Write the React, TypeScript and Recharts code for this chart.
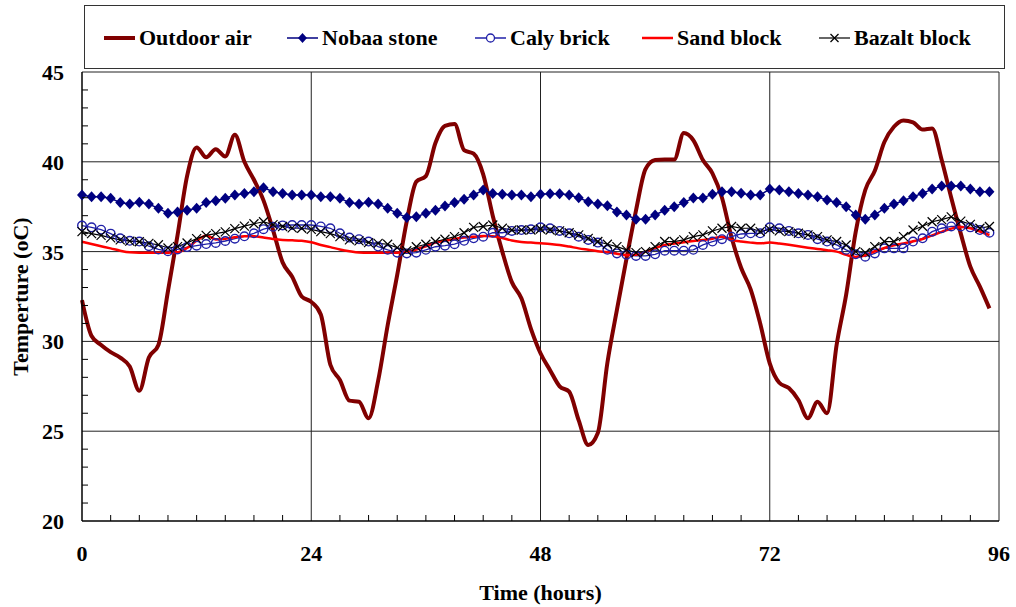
import React from 'react';
import { LineChart, Line, XAxis, YAxis, CartesianGrid } from 'recharts';

const hours = [
  0, 1, 2, 3, 4, 5, 6, 7, 8, 9, 10, 11, 12, 13, 14, 15, 16, 17, 18, 19, 20, 21, 22, 23,
  24, 25, 26, 27, 28, 29, 30, 31, 32, 33, 34, 35, 36, 37, 38, 39, 40, 41, 42, 43, 44, 45, 46, 47,
  48, 49, 50, 51, 52, 53, 54, 55, 56, 57, 58, 59, 60, 61, 62, 63, 64, 65, 66, 67, 68, 69, 70, 71,
  72, 73, 74, 75, 76, 77, 78, 79, 80, 81, 82, 83, 84, 85, 86, 87, 88, 89, 90, 91, 92, 93, 94, 95,
];

const outdoorAir = [
  32.3, 30.3, 29.8, 29.4, 29.1, 28.6, 27.25, 29.1, 29.8, 32.8, 35.9, 39.2,
  40.8, 40.25, 40.7, 40.3, 41.5, 40.0, 39.0, 37.85, 36.2, 34.4, 33.6, 32.5,
  32.2, 31.5, 28.7, 27.85, 26.7, 26.64, 25.72, 27.8, 30.9, 33.7, 36.7, 38.9,
  39.2, 41.05, 42.0, 42.1, 40.65, 40.45, 39.3, 37.0, 35.0, 33.3, 32.4, 30.7,
  29.34, 28.4, 27.5, 27.2, 25.6, 24.23, 24.9, 28.8, 31.75, 34.6, 37.3, 39.6,
  40.1, 40.13, 40.13, 41.6, 41.2, 40.1, 39.36, 38.0, 35.8, 34.1, 32.9, 31.0,
  28.78, 27.7, 27.4, 26.74, 25.72, 26.64, 26.0, 29.8, 32.6, 36.1, 38.43, 39.5,
  41.1, 41.95, 42.3, 42.2, 41.8, 41.86, 40.1, 38.0, 36.0, 34.16, 33.05, 31.84,
];

const nobaaStone = [
  38.15, 38.06, 38.06, 37.97, 37.73, 37.65, 37.75, 37.65, 37.41, 37.13, 37.2, 37.3,
  37.41, 37.73, 37.83, 37.97, 38.15, 38.24, 38.33, 38.56, 38.33, 38.24, 38.15, 38.15,
  38.15, 38.06, 38.06, 37.97, 37.73, 37.65, 37.75, 37.65, 37.41, 37.13, 36.9, 36.94,
  37.13, 37.3, 37.54, 37.73, 37.91, 38.15, 38.43, 38.24, 38.2, 38.15, 38.15, 38.06,
  38.2, 38.22, 38.22, 38.15, 38.0, 37.78, 37.65, 37.55, 37.2, 37.04, 36.8, 36.8,
  37.04, 37.3, 37.5, 37.73, 37.98, 37.98, 38.2, 38.33, 38.33, 38.25, 38.15, 38.15,
  38.48, 38.43, 38.33, 38.24, 38.15, 38.05, 37.87, 37.73, 37.5, 37.04, 36.8, 37.04,
  37.41, 37.65, 37.83, 38.05, 38.24, 38.48, 38.65, 38.65, 38.65, 38.48, 38.33, 38.33,
];

const calyBrick = [
  36.45, 36.35, 36.22, 36.0, 35.74, 35.6, 35.56, 35.3, 35.12, 35.02, 35.12, 35.25,
  35.33, 35.42, 35.48, 35.59, 35.72, 35.85, 36.02, 36.25, 36.38, 36.46, 36.48, 36.48,
  36.48, 36.4, 36.3, 36.02, 35.78, 35.69, 35.56, 35.28, 35.1, 34.94, 34.9, 34.94,
  35.1, 35.27, 35.33, 35.41, 35.6, 35.74, 35.83, 36.05, 36.05, 36.15, 36.2, 36.24,
  36.35, 36.3, 36.15, 36.02, 35.83, 35.65, 35.5, 35.1, 34.9, 34.82, 34.76, 34.76,
  34.85, 35.05, 35.05, 35.05, 35.1, 35.37, 35.56, 35.69, 35.83, 35.98, 36.02, 36.02,
  36.35, 36.3, 36.15, 36.02, 35.93, 35.69, 35.56, 35.37, 35.1, 34.85, 34.72, 34.9,
  35.18, 35.18, 35.18, 35.56, 35.74, 36.11, 36.3, 36.4, 36.4, 36.35, 36.2, 36.05,
];

const sandBlock = [
  35.55, 35.42, 35.3, 35.18, 35.05, 34.96, 34.94, 34.94, 34.94, 34.94, 34.96, 35.2,
  35.6, 35.9, 35.68, 35.72, 35.8, 35.86, 35.86, 35.78, 35.7, 35.65, 35.63, 35.6,
  35.52, 35.37, 35.25, 35.12, 35.02, 34.95, 34.94, 34.94, 34.94, 34.94, 35.0, 35.12,
  35.3, 35.5, 35.6, 35.7, 35.78, 35.83, 35.87, 35.85, 35.76, 35.62, 35.54, 35.5,
  35.46, 35.42, 35.37, 35.28, 35.18, 35.1, 35.02, 34.96, 34.88, 34.8, 34.82, 35.0,
  35.2, 35.37, 35.45, 35.52, 35.59, 35.65, 35.72, 35.83, 35.65, 35.56, 35.5, 35.46,
  35.5, 35.45, 35.38, 35.3, 35.22, 35.15, 35.08, 35.0, 34.82, 34.7, 34.8, 35.02,
  35.2, 35.35, 35.45, 35.58, 35.7, 35.9, 36.1, 36.28, 36.37, 36.3, 36.12, 35.92,
];

const bazaltBlock = [
  36.11, 36.0, 35.9, 35.76, 35.65, 35.58, 35.55, 35.46, 35.38, 35.2, 35.28, 35.48,
  35.72, 35.9, 36.0, 36.1, 36.28, 36.42, 36.55, 36.66, 36.5, 36.4, 36.32, 36.3,
  36.24, 36.11, 36.0, 35.83, 35.65, 35.6, 35.5, 35.46, 35.41, 35.22, 35.05, 35.27,
  35.41, 35.56, 35.69, 35.83, 36.05, 36.35, 36.4, 36.48, 36.3, 36.2, 36.2, 36.2,
  36.26, 36.2, 36.15, 36.05, 35.93, 35.74, 35.56, 35.41, 35.28, 35.1, 34.94, 35.0,
  35.28, 35.56, 35.56, 35.65, 35.83, 35.93, 36.15, 36.3, 36.4, 36.3, 36.3, 36.11,
  36.24, 36.15, 36.11, 36.02, 35.93, 35.83, 35.65, 35.56, 35.37, 35.0, 34.94, 35.28,
  35.56, 35.56, 35.83, 36.2, 36.41, 36.66, 36.78, 36.93, 36.7, 36.52, 36.3, 36.4,
];

const seriesNames = ['Outdoor air', 'Nobaa stone', 'Caly brick', 'Sand block', 'Bazalt block'];

const xTicks = [0, 3, 6, 9, 12, 15, 18, 21, 24, 27, 30, 33, 36, 39, 42, 45, 48, 51, 54, 57, 60, 63, 66, 69, 72, 75, 78, 81, 84, 87, 90, 93, 96];
const yTicks = [20, 21, 22, 23, 24, 25, 26, 27, 28, 29, 30, 31, 32, 33, 34, 35, 36, 37, 38, 39, 40, 41, 42, 43, 44, 45];
const gridX = [24, 48, 72, 96];
const gridY = [25, 30, 35, 40, 45];

const FONT = '"Liberation Serif", "Times New Roman", serif';
const MAROON = '#800000';
const NAVY = '#000080';
const BLUE = '#2020a8';
const RED = '#ff0000';

const rows = hours.map((h, i) => ({
  hour: h,
  outdoor: outdoorAir[i],
  nobaa: nobaaStone[i],
  caly: calyBrick[i],
  sand: sandBlock[i],
  bazalt: bazaltBlock[i],
}));

const diamondDot = (p: any) => {
  if (p.cx == null || p.cy == null) return <g key={`d${p.index}`} />;
  const { cx, cy } = p;
  return (
    <polygon
      key={`d${p.index}`}
      points={`${cx},${cy - 5.5} ${cx + 5},${cy} ${cx},${cy + 5.5} ${cx - 5},${cy}`}
      fill={NAVY}
    />
  );
};

const circleDot = (p: any) => {
  if (p.cx == null || p.cy == null) return <g key={`c${p.index}`} />;
  return <circle key={`c${p.index}`} cx={p.cx} cy={p.cy} r={4.3} fill="none" stroke={BLUE} strokeWidth={1.4} />;
};

const crossDot = (p: any) => {
  if (p.cx == null || p.cy == null) return <g key={`x${p.index}`} />;
  const { cx, cy } = p;
  return (
    <g key={`x${p.index}`} stroke="#000" strokeWidth={1.2}>
      <line x1={cx - 4.5} y1={cy - 4.5} x2={cx + 4.5} y2={cy + 4.5} />
      <line x1={cx - 4.5} y1={cy + 4.5} x2={cx + 4.5} y2={cy - 4.5} />
    </g>
  );
};

const YTick = (p: any) => {
  const v = p.payload.value;
  if (v % 5 === 0) {
    return (
      <text x={p.x - 18} y={p.y} dy="0.36em" textAnchor="end" fontFamily={FONT} fontWeight="bold" fontSize={22} fill="#000">
        {v}
      </text>
    );
  }
  return <line x1={p.x} x2={p.x + 6} y1={p.y} y2={p.y} stroke="#000" strokeWidth={1} />;
};

const XTick = (p: any) => {
  const v = p.payload.value;
  if (v % 24 === 0) {
    return (
      <text x={p.x} y={p.y + 32} dy="0.36em" textAnchor="middle" fontFamily={FONT} fontWeight="bold" fontSize={22} fill="#000">
        {v}
      </text>
    );
  }
  return <line x1={p.x} x2={p.x} y1={p.y} y2={p.y - 6} stroke="#000" strokeWidth={1} />;
};

// legend symbols
function Symbol({ idx }: { idx: number }) {
  const w = 31;
  const c = w / 2;
  if (idx === 0) return <line x1={0} x2={w} y1={10} y2={10} stroke={MAROON} strokeWidth={4} />;
  if (idx === 1)
    return (
      <g>
        <line x1={0} x2={w} y1={10} y2={10} stroke={NAVY} strokeWidth={1.5} />
        <polygon points={`${c},5 ${c + 4.5},10 ${c},15 ${c - 4.5},10`} fill={NAVY} />
      </g>
    );
  if (idx === 2)
    return (
      <g>
        <line x1={0} x2={w} y1={10} y2={10} stroke={BLUE} strokeWidth={1.5} />
        <circle cx={c} cy={10} r={4} fill="#fff" stroke={BLUE} strokeWidth={1.3} />
      </g>
    );
  if (idx === 3) return <line x1={0} x2={w} y1={10} y2={10} stroke={RED} strokeWidth={2.5} />;
  return (
    <g stroke="#000" strokeWidth={1.2}>
      <line x1={0} x2={w} y1={10} y2={10} />
      <line x1={c - 4} y1={6} x2={c + 4} y2={14} />
      <line x1={c - 4} y1={14} x2={c + 4} y2={6} />
    </g>
  );
}

const legendLeft = [19, 202, 390, 557, 734];

function LegendBox() {
  return (
    <div
      style={{
        position: 'absolute',
        left: 84,
        top: 5,
        width: 919,
        height: 62,
        border: '1px solid #333',
        background: '#fff',
      }}
    >
      {seriesNames.map((name, i) => (
        <div
          key={name}
          style={{ position: 'absolute', left: legendLeft[i], top: 22, display: 'flex', alignItems: 'center', height: 20 }}
        >
          <svg width={31} height={20}>
            <Symbol idx={i} />
          </svg>
          <span style={{ marginLeft: 4, fontFamily: FONT, fontWeight: 'bold', fontSize: 22, lineHeight: '20px', color: '#000' }}>
            {name}
          </span>
        </div>
      ))}
    </div>
  );
}

export default function App() {
  return (
    <div style={{ position: 'absolute', left: 0, top: 0, width: 1016, height: 607, background: '#fff' }}>
      <LineChart width={1016} height={607} data={rows} margin={{ top: 72, right: 17, bottom: 0, left: 0 }}>
        <CartesianGrid horizontalValues={gridY} verticalValues={gridX} stroke="#222" strokeWidth={1} />
        <XAxis
          dataKey="hour"
          type="number"
          domain={[0, 96]}
          ticks={xTicks}
          interval={0}
          tickSize={0}
          tickMargin={0}
          height={86}
          axisLine={{ stroke: '#000', strokeWidth: 1.5 }}
          tick={XTick}
          label={{
            content: (lp: any) => {
              const vb = lp.viewBox || {};
              return (
                <text
                  x={(vb.x ?? 82) + (vb.width ?? 917) / 2}
                  y={592}
                  dy="0.36em"
                  textAnchor="middle"
                  fontFamily={FONT}
                  fontWeight="bold"
                  fontSize={22}
                  fill="#000"
                >
                  Time (hours)
                </text>
              );
            },
          }}
        />
        <YAxis
          type="number"
          domain={[20, 45]}
          ticks={yTicks}
          interval={0}
          tickSize={0}
          tickMargin={0}
          width={82}
          axisLine={{ stroke: '#000', strokeWidth: 1.5 }}
          tick={YTick}
          label={{
            content: (lp: any) => {
              const vb = lp.viewBox || {};
              const cy = (vb.y ?? 72) + (vb.height ?? 449) / 2;
              return (
                <text
                  x={20}
                  y={cy}
                  dy="0.36em"
                  textAnchor="middle"
                  transform={`rotate(-90, 20, ${cy})`}
                  fontFamily={FONT}
                  fontWeight="bold"
                  fontSize={22}
                  fill="#000"
                >
                  Temperture (oC)
                </text>
              );
            },
          }}
        />
        <Line type="monotone" dataKey="outdoor" name={seriesNames[0]} stroke={MAROON} strokeWidth={4} dot={false} isAnimationActive={false} />
        <Line type="linear" dataKey="nobaa" name={seriesNames[1]} stroke={NAVY} strokeWidth={1.5} dot={diamondDot} isAnimationActive={false} />
        <Line type="linear" dataKey="caly" name={seriesNames[2]} stroke={BLUE} strokeWidth={1.3} dot={circleDot} isAnimationActive={false} />
        <Line type="monotone" dataKey="sand" name={seriesNames[3]} stroke={RED} strokeWidth={2.5} dot={false} isAnimationActive={false} />
        <Line type="linear" dataKey="bazalt" name={seriesNames[4]} stroke="#000" strokeWidth={1.2} dot={crossDot} isAnimationActive={false} />
      </LineChart>
      <LegendBox />
    </div>
  );
}
